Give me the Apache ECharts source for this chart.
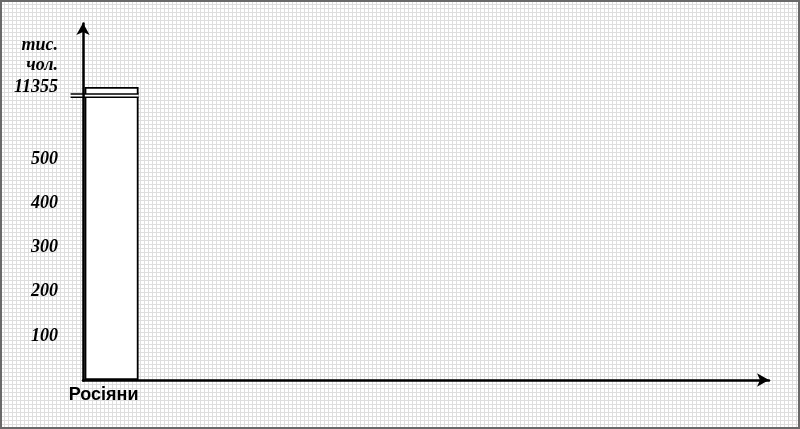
<!DOCTYPE html>
<html>
<head>
<meta charset="utf-8">
<script src="https://cdn.jsdelivr.net/npm/echarts@6/dist/echarts.min.js"></script>
<style>
  html, body { margin: 0; padding: 0; }
  body {
    width: 800px; height: 429px; overflow: hidden; position: relative;
    background-color: #ffffff;
    background-image:
      repeating-linear-gradient(to right, #dedede 0px, #dedede 1px, transparent 1px, transparent 4px),
      repeating-linear-gradient(to bottom, #dedede 0px, #dedede 1px, transparent 1px, transparent 4px);
  }
  #chart { width: 800px; height: 429px; position: absolute; left: 0; top: 0; }
  #frame { position: absolute; left: 0; top: 0; width: 800px; height: 429px; box-sizing: border-box;
           border: 2px solid #6a6a6a; pointer-events: none; }
</style>
</head>
<body>
<div id="chart"></div>
<div id="frame"></div>
<script>
// ---- data ----
const categories = ['Росіяни'];
const values = [11355];
const tickValues = [100, 200, 300, 400, 500, 11355];
const axisName = 'тис.\nчол.';
const breakStart = 641;
const breakEnd = 11339;

const chart = echarts.init(document.getElementById('chart'), null, { renderer: 'canvas' });
const labelFont = { fontFamily: '"Liberation Serif", "Times New Roman", serif', fontWeight: 'bold', fontStyle: 'italic', fontSize: 18, color: '#000' };

chart.setOption({
  backgroundColor: 'transparent',
  animation: false,
  grid: { left: 83, right: 31, top: 23, bottom: 49, containLabel: false },
  xAxis: {
    type: 'category',
    data: categories,
    max: 11,
    axisLine: { show: true, lineStyle: { color: '#000', width: 2.5 }, symbol: ['none', 'arrow'], symbolSize: [10, 12] },
    axisTick: { show: false },
    splitLine: { show: false },
    axisLabel: {
      margin: 6, fontFamily: '"Liberation Sans", Arial, sans-serif', fontWeight: 'bold', fontSize: 18, color: '#000',
      padding: [0, 16, 0, 0]
    }
  },
  yAxis: {
    type: 'value',
    min: 0,
    max: 11500,
    breaks: [{ start: breakStart, end: breakEnd, gap: 7 }],
    breakArea: { show: false },
    name: axisName,
    nameLocation: 'end',
    nameGap: -12,
    nameTextStyle: Object.assign({}, labelFont, { align: 'right', verticalAlign: 'top', lineHeight: 20, padding: [0, 25, 0, 0] }),
    axisLine: { show: true, lineStyle: { color: '#000', width: 2.5 }, symbol: ['none', 'arrow'], symbolSize: [10, 12] },
    axisTick: { show: false },
    splitLine: { show: false },
    axisLabel: Object.assign({}, labelFont, {
      customValues: tickValues,
      margin: 25,
      formatter: function (v) { return String(v); }
    })
  },
  series: [{
    type: 'bar',
    data: values,
    barWidth: 54,
    itemStyle: { color: '#ffffff', borderColor: '#000', borderWidth: 1.8 },
    silent: true
  }]
});

// break marks (two short parallel lines across axis and bar), positioned from the scale
function drawBreak() {
  const y1 = chart.convertToPixel({ yAxisIndex: 0 }, breakStart);
  const y2 = chart.convertToPixel({ yAxisIndex: 0 }, breakEnd);
  const xc = chart.convertToPixel({ xAxisIndex: 0 }, 0);
  const x1 = xc - 41, x2 = xc + 27;
  chart.setOption({
    graphic: [
      { type: 'rect', shape: { x: x1, y: Math.min(y1, y2), width: x2 - x1, height: Math.abs(y1 - y2) }, style: { fill: '#fff' }, z: 10 },
      { type: 'line', shape: { x1: x1, y1: y1, x2: x2, y2: y1 }, style: { stroke: '#000', lineWidth: 1.5 }, z: 11 },
      { type: 'line', shape: { x1: x1, y1: y2, x2: x2, y2: y2 }, style: { stroke: '#000', lineWidth: 1.5 }, z: 11 },
      { type: 'line', shape: { x1: xc - 28, y1: Math.min(y1, y2), x2: xc - 28, y2: Math.max(y1, y2) }, style: { stroke: '#000', lineWidth: 2.5 }, z: 11 }
    ]
  });
}
drawBreak();
</script>
</body>
</html>
